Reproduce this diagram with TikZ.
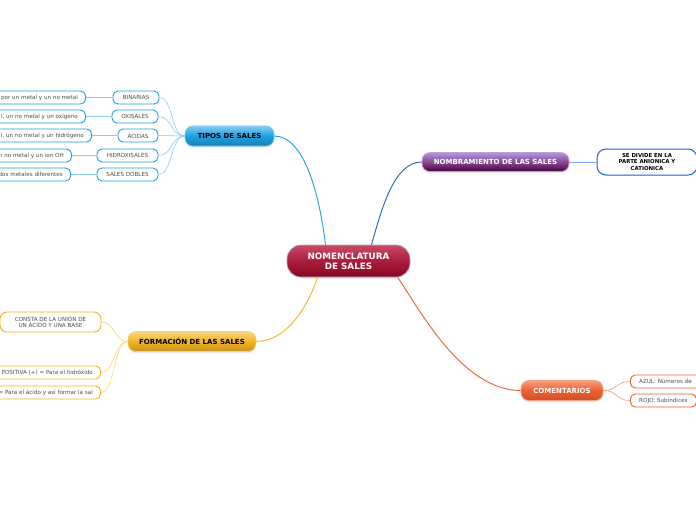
\documentclass[tikz,border=0pt]{standalone}
\usepackage{fontspec}
\setmainfont{DejaVu Sans}
\usetikzlibrary{calc,shadows}
\definecolor{tblue}{HTML}{1DA1E2}
\definecolor{tblueL}{HTML}{8CCCF0}
\definecolor{nblue}{HTML}{1F5FD1}
\definecolor{fyel}{HTML}{F2B41E}
\definecolor{fyelL}{HTML}{F9D57A}
\definecolor{cora}{HTML}{EE5F30}
\definecolor{coraL}{HTML}{F29A7A}
\definecolor{crimT}{HTML}{CC4A64}
\definecolor{crimM}{HTML}{A91C3C}
\definecolor{crimB}{HTML}{85081F}
\tikzset{
  x=1pt,y=-1pt,
  mainbox/.style={rounded corners=8pt, minimum height=19pt, inner sep=0pt, line width=0.6pt,
    font=\fontsize{7}{8.4}\selectfont\bfseries, drop shadow={opacity=0.2,shadow xshift=0pt,shadow yshift=-1.5pt}},
  subbox/.style={draw, fill=white, rounded corners=5pt, minimum height=13pt, inner ysep=0pt, inner xsep=0pt,
    line width=0.9pt, font=\fontsize{5.6}{6.7}\selectfont, text=black!70},
  leaftext/.style={inner sep=0pt, font=\fontsize{5.6}{6.7}\selectfont, text=black!70},
  tline/.style={draw=tblueL, line width=0.6pt},
  yline/.style={draw=fyelL, line width=0.6pt},
  oline/.style={draw=coraL, line width=0.6pt},
}
\begin{document}
\begin{tikzpicture}
\path[use as bounding box] (0,0) rectangle (696,520);
\clip (0,0) rectangle (696,520);
\fill[white] (0,0) rectangle (696,520);

% center
\node[mainbox, minimum width=123pt, minimum height=32pt, rounded corners=14pt, draw=blue!30!gray!50,
  top color=crimT, bottom color=crimB, middle color=crimM,
  text=white, align=center, font=\fontsize{8.8}{10.4}\selectfont\bfseries] (c) at (348.5,261) {NOMENCLATURA\\DE SALES};

% main branches
\node[mainbox, minimum width=89pt, minimum height=20pt, draw=tblue!60!white, top color=tblue!55!white, bottom color=tblue!80!black,
  middle color=tblue, text=black] (tipos) at (229.5,136) {TIPOS DE SALES};
\node[mainbox, minimum width=147pt, draw=violet!40!white, top color=violet!35!blue!40!white, bottom color=violet!55!black,
  middle color=violet!65!white!80!black, text=white] (nom) at (495.5,162) {NOMBRAMIENTO DE LAS SALES};
\node[mainbox, minimum width=128pt, minimum height=20pt, draw=fyel!60!white, top color=fyel!55!white, bottom color=fyel!80!black!95,
  middle color=fyel, text=black] (form) at (192,341.5) {FORMACIÓN DE LAS SALES};
\node[mainbox, minimum width=82pt, minimum height=20pt, draw=cora!60!white, top color=cora!60!white, bottom color=cora!85!black,
  middle color=cora, text=white] (com) at (562,390.5) {COMENTARIOS};

% main connectors
\draw[draw=tblue, line width=0.9pt] ([xshift=-23pt]c.north) .. controls ($([xshift=-23pt]c.north)+(-6,-50)$) and ($(tipos.east)+(30,0)$) .. (tipos.east);
\draw[draw=nblue, line width=0.9pt] ([xshift=23pt]c.north) .. controls ($([xshift=23pt]c.north)+(10,-35)$) and ($(nom.west)+(-28,0)$) .. (nom.west);
\draw[draw=fyel, line width=0.9pt] ([xshift=-31pt]c.south) .. controls ($([xshift=-31pt]c.south)+(-10,30)$) and ($(form.east)+(30,0)$) .. (form.east);
\draw[draw=cora, line width=0.9pt] ([xshift=49pt]c.south) .. controls ($([xshift=49pt]c.south)+(20,28)$) and ($(com.west)+(-60,0)$) .. (com.west);

% nombramiento child
\node[subbox, draw=nblue, line width=1pt, minimum width=100pt, minimum height=26pt, rounded corners=9pt,
  align=center, text=black, font=\fontsize{5.4}{6.3}\selectfont\bfseries] (se) at (647,162) {SE DIVIDE EN LA\\PARTE ANIONICA Y\\CATIONICA};
\draw[draw=nblue!55!white, line width=0.7pt] (nom.east) -- (se.west);

% tipos children
\node[subbox, draw=tblue, minimum width=46pt] (bin) at (136,97.5) {BINARIAS};
\node[subbox, draw=tblue, minimum width=46pt] (oxi) at (135,116.5) {OXISALES};
\node[subbox, draw=tblue, minimum width=40pt] (aci) at (138,135.5) {ÁCIDAS};
\node[subbox, draw=tblue, minimum width=61pt] (hid) at (127.5,155.5) {HIDROXISALES};
\node[subbox, draw=tblue, minimum width=61pt] (sd) at (127.5,174.5) {SALES DOBLES};
\foreach \n in {bin,oxi,aci,hid,sd}{
  \draw[tline] (tipos.west) .. controls ($(tipos.west)+(-14,0)$) and ($(\n.east)+(14,0)$) .. (\n.east);
}

% tipos leaves (boxes run past the left edge)
\node[subbox, draw=tblue, minimum width=120pt, anchor=east] (l1) at (86,97.5) {};
\node[subbox, draw=tblue, minimum width=120pt, anchor=east] (l2) at (86,116.5) {};
\node[subbox, draw=tblue, minimum width=120pt, anchor=east] (l3) at (92,135.5) {};
\node[subbox, draw=tblue, minimum width=120pt, anchor=east] (l4) at (72,155.5) {};
\node[subbox, draw=tblue, minimum width=120pt, anchor=east] (l5) at (71,174.5) {};
\node[leaftext, anchor=east] (t1) at ([xshift=-8pt]l1.east) {por un metal y un no metal};
\node[leaftext, anchor=east] (t2) at ([xshift=-8pt]l2.east) {l, un no metal y un oxígeno};
\node[leaftext, anchor=east] (t3) at ([xshift=-8pt]l3.east) {l, un no metal y un hidrógeno};
\node[leaftext, anchor=east] (t4) at ([xshift=-8pt]l4.east) {n no metal y un ion OH};
\node[leaftext, anchor=east] (t5) at ([xshift=-8pt]l5.east) {dos metales diferentes};
\draw[tline] (bin.west) -- (l1.east);
\draw[tline] (oxi.west) -- (l2.east);
\draw[tline] (aci.west) -- (l3.east);
\draw[tline] (hid.west) -- (l4.east);
\draw[tline] (sd.west) -- (l5.east);

% formacion children
\node[subbox, draw=fyel, minimum width=101pt, minimum height=20pt, rounded corners=7pt, align=center] (f1) at (50.5,322) {CONSTA DE LA UNIÓN DE\\UN ÁCIDO Y UNA BASE};
\node[subbox, draw=fyel, minimum width=140pt, anchor=east] (f2) at (101,372.5) {};
\node[subbox, draw=fyel, minimum width=140pt, anchor=east] (f3) at (101,392.5) {};
\node[leaftext, anchor=east] (t6) at ([xshift=-8pt]f2.east) {POSITIVA (+) = Para el hidróxido};
\node[leaftext, anchor=east] (t7) at ([xshift=-8pt]f3.east) {= Para el ácido y así formar la sal};
\foreach \n in {f1,f2,f3}{
  \draw[yline] (form.west) .. controls ($(form.west)+(-14,0)$) and ($(\n.east)+(14,0)$) .. (\n.east);
}

% comentarios children
\node[subbox, draw=cora, minimum width=110pt, anchor=west] (a1) at (630,381.5) {};
\node[subbox, draw=cora, minimum width=66pt, anchor=west] (a2) at (630,400.5) {};
\node[leaftext, anchor=west] (t8) at ([xshift=9pt]a1.west) {AZUL: Números de};
\node[leaftext, anchor=west] (t9) at ([xshift=9pt]a2.west) {ROJO: Subíndices};
\foreach \n in {a1,a2}{
  \draw[oline] (com.east) .. controls ($(com.east)+(14,0)$) and ($(\n.west)+(-14,0)$) .. (\n.west);
}
\end{tikzpicture}
\end{document}
